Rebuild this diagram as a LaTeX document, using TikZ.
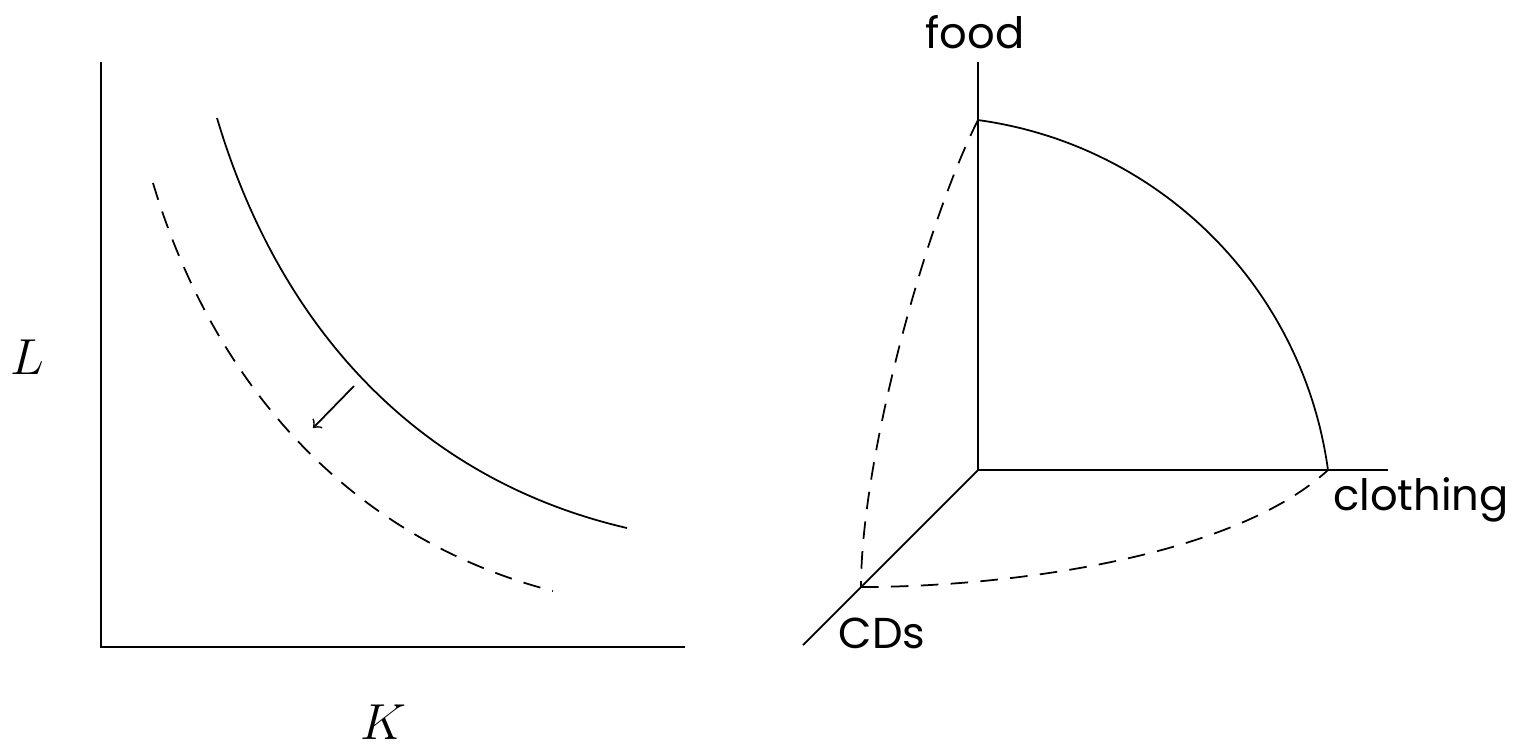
\documentclass[tikz,border=0pt]{standalone}
\usepackage{fontspec}
\newfontfamily\labelfont{Poppins}
\usetikzlibrary{positioning}

\begin{document}
\begin{tikzpicture}[x=0.01cm, y=-0.01cm, line width=0.5pt,
    dsh/.style={dash pattern=on 5pt off 3.5pt},
    lbl/.style={font=\labelfont\fontsize{12.3}{14}\selectfont, inner sep=0pt},
    mlbl/.style={font=\fontsize{15}{17}\selectfont, inner sep=0pt}]
    \useasboundingbox (0,0) rectangle (1522,744);

    % left: isoquants
    \coordinate (top) at (101,62);
    \coordinate (orig) at (101,647);
    \coordinate (right) at (685,647);
    \draw (top) -- (orig) -- (right);
    \node[mlbl] (L) at (27,357) {$L$};
    \node[mlbl] (K) at (383,722) {$K$};

    \draw (217,118) .. controls (280,330) and (420,480) .. (627,528);
    \draw[dsh] (153,183) .. controls (215,390) and (355,540) .. (553,591);
    \coordinate (shA) at (354,386);
    \coordinate (shB) at (313,428);
    \draw[->] (shA) -- (shB);

    % right: production possibility surface
    \coordinate (o) at (978,470);
    \coordinate (fd) at (978,62);
    \coordinate (cl) at (1388,470);
    \coordinate (cd) at (803,645);
    \coordinate (ffd) at (978,120);
    \coordinate (fcl) at (1328,470);
    \coordinate (fcd) at (861,587);
    \draw (o) -- (fd);
    \draw (o) -- (cl);
    \draw (o) -- (cd);
    \node[lbl] (food) at (975,32) {food};
    \node[lbl] (clothing) at (1421,500) {clothing};
    \node[lbl] (CDs) at (882,633) {CDs};

    \draw plot[domain=-82.3:-7.7, samples=60] ({923+408.7*cos(\x)}, {525+408.7*sin(\x)});
    \draw[dsh] (ffd) .. controls (925,225) and (861,460) .. (fcd);
    \draw[dsh] (fcd) .. controls (1000,587) and (1230,560) .. (fcl);
\end{tikzpicture}
\end{document}
